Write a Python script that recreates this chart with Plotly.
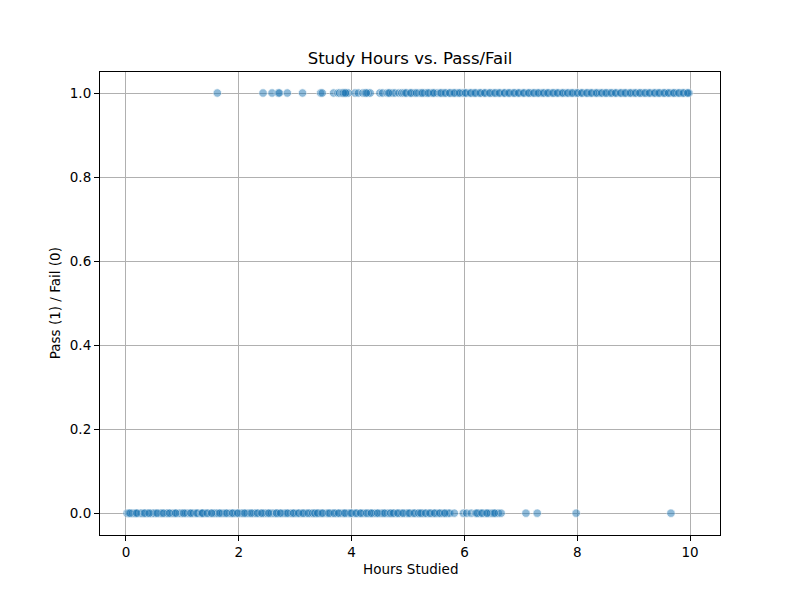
import plotly.graph_objects as go

# hours studied for students who failed (0) and passed (1)
fail_hours = [0.02, 0.05, 0.09, 0.12, 0.15, 0.17, 0.21, 0.26, 0.28, 0.31, 0.35, 0.38, 0.43, 0.46,
              0.49, 0.52, 0.57, 0.61, 0.63, 0.68, 0.72, 0.74, 0.79, 0.83, 0.86, 0.90, 0.95, 0.98,
              1.01, 1.06, 1.09, 1.13, 1.17, 1.20, 1.24, 1.28, 1.33, 1.35, 1.37, 1.41, 1.46, 1.50,
              1.54, 1.57, 1.60, 1.63, 1.68, 1.71, 1.75, 1.80, 1.84, 1.87, 1.91, 1.95, 2.00, 2.04,
              2.07, 2.12, 2.15, 2.19, 2.24, 2.27, 2.30, 2.35, 2.39, 2.43, 2.46, 2.50, 2.55, 2.58,
              2.62, 2.65, 2.68, 2.71, 2.76, 2.80, 2.83, 2.88, 2.92, 2.95, 2.99, 3.03, 3.08, 3.12,
              3.16, 3.20, 3.25, 3.28, 3.33, 3.36, 3.38, 3.42, 3.46, 3.50, 3.55, 3.58, 3.62, 3.66,
              3.71, 3.74, 3.79, 3.83, 3.86, 3.90, 3.94, 3.97, 4.01, 4.06, 4.10, 4.14, 4.18, 4.21,
              4.25, 4.30, 4.33, 4.36, 4.39, 4.43, 4.48, 4.52, 4.55, 4.60, 4.64, 4.67, 4.71, 4.76,
              4.80, 4.84, 4.88, 4.93, 4.97, 5.00, 5.04, 5.09, 5.13, 5.17, 5.21, 5.25, 5.28, 5.33,
              5.37, 5.41, 5.45, 5.49, 5.53, 5.58, 5.62, 5.67, 5.71, 5.74, 5.82, 5.98, 6.04, 6.12,
              6.20, 6.24, 6.28, 6.33, 6.38, 6.42, 6.46, 6.50, 6.55, 6.60, 6.65, 7.09, 7.29, 7.98,
              9.66,
              0.07, 0.19, 0.33, 0.41, 0.55, 0.66, 0.77, 0.88, 1.03, 1.15, 1.26, 1.34, 1.36, 1.44,
              1.52, 1.66, 1.78, 1.89, 1.98, 2.10, 2.22, 2.33, 2.41, 2.53, 2.67, 2.74, 2.86, 2.97,
              3.06, 3.14, 3.23, 3.31, 3.35, 3.40, 3.48, 3.60, 3.69, 3.77, 3.88, 3.99, 4.08, 4.16,
              4.27, 4.35, 4.46, 4.58, 4.69, 4.74, 4.82, 4.91, 5.02, 5.11, 5.19, 5.23, 5.31, 5.39,
              5.47, 5.56, 5.65, 6.22, 6.31, 6.40, 6.53]
pass_hours = [1.62, 2.43, 2.59, 2.70, 2.72, 2.86, 3.13, 3.45, 3.48, 3.68, 3.76, 3.79, 3.83, 3.86,
              3.88, 3.91, 3.94, 4.06, 4.12, 4.20, 4.24, 4.29, 4.33, 4.50, 4.55, 4.63, 4.68, 4.73,
              4.77, 4.84, 4.89, 4.93, 4.98, 5.03, 5.07, 5.12, 5.19, 5.23, 5.27, 5.30, 5.34, 5.39,
              5.43, 5.47, 5.52, 5.56, 5.60, 5.63, 5.68, 5.72, 5.76, 5.80, 5.84, 5.88, 5.93, 5.97,
              6.00, 6.04, 6.09, 6.13, 6.17, 6.21, 6.26, 6.30, 6.34, 6.38, 6.43, 6.47, 6.51, 6.56,
              6.60, 6.64, 6.69, 6.72, 6.77, 6.81, 6.86, 6.90, 6.94, 6.98, 7.03, 7.07, 7.12, 7.16,
              7.20, 7.25, 7.29, 7.33, 7.37, 7.42, 7.46, 7.50, 7.55, 7.59, 7.63, 7.67, 7.72, 7.76,
              7.80, 7.85, 7.89, 7.93, 7.97, 8.02, 8.06, 8.10, 8.15, 8.19, 8.23, 8.27, 8.32, 8.36,
              8.40, 8.45, 8.49, 8.53, 8.57, 8.62, 8.66, 8.70, 8.75, 8.79, 8.83, 8.87, 8.92, 8.96,
              9.00, 9.05, 9.09, 9.13, 9.17, 9.22, 9.26, 9.30, 9.35, 9.39, 9.43, 9.47, 9.52, 9.56,
              9.60, 9.65, 9.69, 9.73, 9.77, 9.82, 9.86, 9.90, 9.94, 9.98,
              3.85, 3.89, 4.26, 4.66, 4.96, 5.05, 5.15, 5.25, 5.36, 5.45, 5.58, 5.66, 5.74, 5.82,
              5.91, 6.02, 6.11, 6.19, 6.28, 6.36, 6.45, 6.54, 6.62, 6.71, 6.79, 6.88, 6.96, 7.05,
              7.14, 7.23, 7.31, 7.40, 7.48, 7.57, 7.65, 7.74, 7.83, 7.91, 8.00, 8.08, 8.17, 8.25,
              8.34, 8.43, 8.51, 8.60, 8.68, 8.77, 8.85, 8.94, 9.03, 9.11, 9.20, 9.28, 9.37, 9.45,
              9.54, 9.62, 9.71, 9.80, 9.88, 9.96]

hours = fail_hours + pass_hours
passed = [0] * len(fail_hours) + [1] * len(pass_hours)

font = "DejaVu Sans, Liberation Sans, sans-serif"

fig = go.Figure(go.Scatter(
    x=hours, y=passed, mode="markers",
    marker=dict(size=8.5, color="#1f77b4", opacity=0.5,
                line=dict(color="white", width=0.8)),
    showlegend=False))

axis_style = dict(showline=True, mirror=True, linecolor="black", linewidth=1.1,
                  showgrid=True, gridcolor="#b0b0b0", gridwidth=1.1, zeroline=False,
                  ticks="outside", ticklen=5, tickwidth=1.1, tickcolor="black",
                  tickfont=dict(family=font, size=13.5, color="black"))

fig.update_xaxes(range=[-0.46, 10.53], tickvals=[0, 2, 4, 6, 8, 10], **axis_style)
fig.update_yaxes(range=[-0.052, 1.05], tickvals=[0, 0.2, 0.4, 0.6, 0.8, 1.0],
                 tickformat=".1f", **axis_style)

# the page puts the figure 8px in from the top-left corner, so margins allow for that
fig.update_layout(
    width=800, height=600,
    margin=dict(l=92, r=88, t=64, b=73),
    paper_bgcolor="white", plot_bgcolor="white",
    title=dict(text="Study Hours vs. Pass/Fail", x=0.5025, xanchor="center",
               yref="container", y=1 - 50 / 600, yanchor="middle",
               font=dict(family=font, size=16.5, color="black")),
    annotations=[
        dict(text="Hours Studied", xref="paper", yref="paper", x=0.5, y=-0.073,
             xanchor="center", yanchor="middle", showarrow=False,
             font=dict(family=font, size=13.5, color="black")),
        dict(text="Pass (1) / Fail (0)", xref="paper", yref="paper", x=-0.073, y=0.5,
             xanchor="center", yanchor="middle", showarrow=False, textangle=-90,
             font=dict(family=font, size=13.5, color="black")),
    ],
)

fig.write_html("out.html")
